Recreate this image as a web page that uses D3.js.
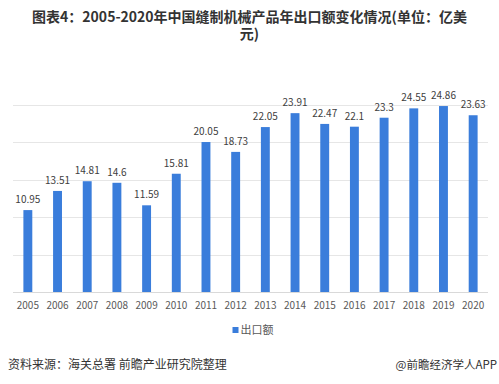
<!DOCTYPE html>
<html>
<head>
<meta charset="utf-8">
<script src="https://cdn.jsdelivr.net/npm/d3@7"></script>
<style>
  body { margin: 0; background: #fff; }
  text { font-family: "Microsoft YaHei", "Noto Sans CJK SC", sans-serif; }
</style>
</head>
<body>
<div id="chart"></div>
<script>
// data
const years = ["2005", "2006", "2007", "2008", "2009", "2010", "2011", "2012",
               "2013", "2014", "2015", "2016", "2017", "2018", "2019", "2020"];
const exports = [10.95, 13.51, 14.81, 14.6, 11.59, 15.81, 20.05, 18.73,
                 22.05, 23.91, 22.47, 22.1, 23.3, 24.55, 24.86, 23.63];
const yTicks = [0, 5, 10, 15, 20, 25];
const seriesName = "出口额";
const titleLines = ["图表4：2005-2020年中国缝制机械产品年出口额变化情况(单位：亿美", "元)"];
const sourceText = "资料来源：海关总署 前瞻产业研究院整理";
const brandText = "@前瞻经济学人APP";

const width = 499, height = 384;
const margin = {top: 105, right: 11, bottom: 92, left: 13};
const barColor = "#3a7ddb";

const svg = d3.select("#chart").append("svg")
    .attr("width", width)
    .attr("height", height);

// title, wrapped in two lines as in the source
svg.append("g")
    .selectAll("text")
    .data(titleLines)
    .join("text")
    .attr("x", width / 2)
    .attr("y", (d, i) => 22 + i * 17)
    .attr("text-anchor", "middle")
    .style("font-size", "14px")
    .style("font-weight", "bold")
    .style("fill", "#333")
    .text(d => d);

const x = d3.scaleBand()
    .domain(years)
    .range([margin.left, width - margin.right])
    .paddingInner(0.7)
    .paddingOuter(0.35);

const y = d3.scaleLinear()
    .domain([0, 25])
    .range([height - margin.bottom, margin.top]);

// gridlines
svg.append("g")
    .selectAll("line")
    .data(yTicks)
    .join("line")
    .attr("x1", margin.left)
    .attr("x2", width - margin.right)
    .attr("y1", d => Math.round(y(d)) + 0.5)
    .attr("y2", d => Math.round(y(d)) + 0.5)
    .attr("stroke", d => d === 0 ? "#d9d9d9" : "#e6e6e6")
    .attr("stroke-width", 1);

// bars
svg.append("g")
    .selectAll("rect")
    .data(exports)
    .join("rect")
    .attr("x", (d, i) => x(years[i]))
    .attr("y", d => y(d))
    .attr("width", x.bandwidth())
    .attr("height", d => y(0) - y(d))
    .attr("fill", barColor);

// value labels
svg.append("g")
    .selectAll("text")
    .data(exports)
    .join("text")
    .attr("x", (d, i) => x(years[i]) + x.bandwidth() / 2)
    .attr("y", d => y(d) - 7)
    .attr("text-anchor", "middle")
    .style("font-size", "10px")
    .style("fill", "#404040")
    .text(d => d);

// x axis labels
const xAxis = svg.append("g")
    .attr("transform", `translate(0,${y(0)})`)
    .call(d3.axisBottom(x).tickSize(0).tickPadding(10));
xAxis.select(".domain").remove();
xAxis.selectAll("text")
    .style("font-size", "10px")
    .style("fill", "#595959")
    .style("font-family", "\"Microsoft YaHei\", \"Noto Sans CJK SC\", sans-serif");

// legend
const legend = svg.append("g")
    .attr("transform", `translate(${width / 2 - 17}, 330)`);
legend.append("rect")
    .attr("x", 0)
    .attr("y", -3)
    .attr("width", 6)
    .attr("height", 6)
    .attr("fill", barColor);
legend.append("text")
    .attr("x", 8)
    .attr("y", 0)
    .attr("dy", "0.35em")
    .style("font-size", "11px")
    .style("fill", "#595959")
    .text(seriesName);

// footer
svg.append("text")
    .attr("x", 8)
    .attr("y", 365)
    .attr("dy", "0.35em")
    .style("font-size", "12px")
    .style("fill", "#333")
    .text(sourceText);

svg.append("text")
    .attr("x", 497)
    .attr("y", 365)
    .attr("dy", "0.35em")
    .attr("text-anchor", "end")
    .style("font-size", "11.5px")
    .style("fill", "#333")
    .text(brandText);
</script>
</body>
</html>
